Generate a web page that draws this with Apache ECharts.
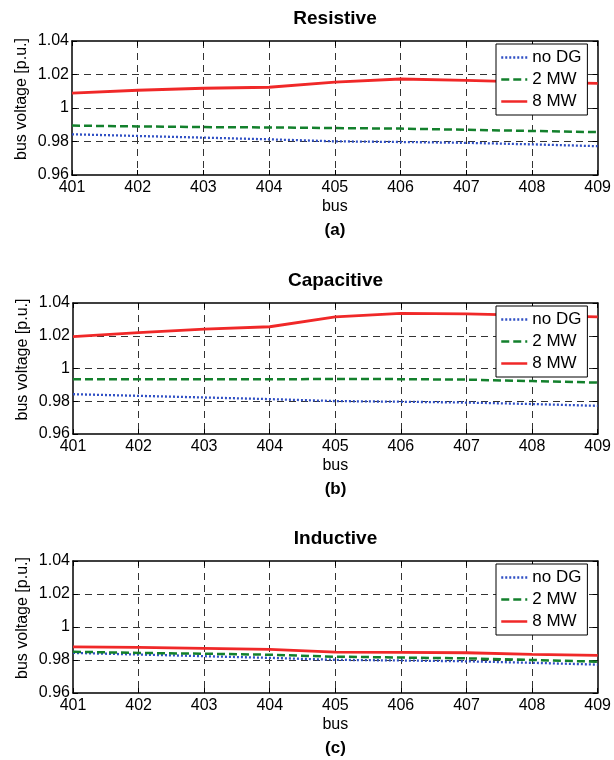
<!DOCTYPE html>
<html><head><meta charset="utf-8">
<script src="https://cdn.jsdelivr.net/npm/echarts@6/dist/echarts.min.js"></script>
<style>html,body{margin:0;padding:0;background:#fff}#c{width:614px;height:760px}</style>
</head><body><div id="c"></div>
<script>
// ---- data ----
const buses = [401, 402, 403, 404, 405, 406, 407, 408, 409];
const yTicks = [0.96, 0.98, 1.0, 1.02, 1.04];
const seriesNames = ['no DG', '2 MW', '8 MW'];
const panelTitles = ['Resistive', 'Capacitive', 'Inductive'];
const panelLabels = ['(a)', '(b)', '(c)'];
const xAxisName = 'bus';
const yAxisName = 'bus voltage [p.u.]';

const noDG   = [0.9843, 0.9833, 0.9823, 0.9813, 0.9801, 0.9797, 0.9792, 0.9783, 0.9772];
const res2MW = [0.9895, 0.9890, 0.9886, 0.9884, 0.9880, 0.9877, 0.9870, 0.9863, 0.9856];
const res8MW = [1.0089, 1.0106, 1.0118, 1.0124, 1.0155, 1.0173, 1.0165, 1.0155, 1.0147];
const cap2MW = [0.9935, 0.9935, 0.9934, 0.9934, 0.9936, 0.9935, 0.9932, 0.9923, 0.9914];
const cap8MW = [1.0195, 1.0219, 1.0241, 1.0255, 1.0315, 1.0337, 1.0333, 1.0325, 1.0315];
const ind2MW = [0.9850, 0.9843, 0.9838, 0.9832, 0.9820, 0.9815, 0.9810, 0.9800, 0.9790];
const ind8MW = [0.9880, 0.9876, 0.9870, 0.9864, 0.9848, 0.9846, 0.9844, 0.9834, 0.9828];

const panels = [
  [noDG, res2MW, res8MW],
  [noDG, cap2MW, cap8MW],
  [noDG, ind2MW, ind8MW]
];

// ---- styling / layout ----
const FONT = '"Liberation Sans", Arial, Helvetica, sans-serif';
const gridBoxes = [
  {left: 72, top: 41, height: 134},
  {left: 73, top: 303, height: 131},
  {left: 73, top: 561, height: 132}
];
const RIGHT = 16;
const lineStyles = [
  {color: '#2f4fc4', width: 2.3, type: [2, 2]},
  {color: '#13802c', width: 2.5, type: [8, 4]},
  {color: '#f02828', width: 2.8, type: 'solid'}
];

const chart = echarts.init(document.getElementById('c'), null, {renderer: 'canvas'});

const grid = [], xAxis = [], yAxis = [], series = [], legend = [], graphic = [];
const axisLineStyle = {show: true, lineStyle: {color: '#000', width: 1.5}};
const tickStyle = {show: true, inside: true, length: 5, lineStyle: {color: '#000', width: 1}};
const gridLine = {show: true, showMinLine: false, showMaxLine: false,
  lineStyle: {color: '#333', width: 1, type: [7, 5]}};

gridBoxes.forEach((g, i) => {
  grid.push({left: g.left, top: g.top, height: g.height, right: RIGHT, containLabel: false});
  // bottom x axis
  xAxis.push({
    type: 'value', gridIndex: i, position: 'bottom',
    min: buses[0], max: buses[buses.length - 1], interval: 1,
    axisLine: axisLineStyle, axisTick: tickStyle, splitLine: gridLine,
    axisLabel: {color: '#000', fontSize: 16, fontFamily: FONT, margin: 5,
      formatter: v => String(v)},
    name: xAxisName, nameLocation: 'middle', nameGap: 24, nameMoveOverlap: false,
    nameTextStyle: {color: '#000', fontSize: 16, fontFamily: FONT}
  });
  // top x axis (box + ticks)
  xAxis.push({
    type: 'value', gridIndex: i, position: 'top',
    min: buses[0], max: buses[buses.length - 1], interval: 1,
    axisLine: axisLineStyle, axisTick: tickStyle, splitLine: {show: false},
    axisLabel: {show: false}
  });
  // left y axis
  yAxis.push({
    type: 'value', gridIndex: i, position: 'left',
    min: yTicks[0], max: yTicks[yTicks.length - 1], interval: 0.02,
    axisLine: axisLineStyle, axisTick: tickStyle, splitLine: gridLine,
    axisLabel: {color: '#000', fontSize: 16, fontFamily: FONT, margin: 3,
      formatter: v => String(parseFloat(v.toFixed(2)))},
    name: yAxisName, nameLocation: 'middle', nameGap: 42, nameRotate: 90,
    nameMoveOverlap: false,
    nameTextStyle: {color: '#000', fontSize: 16, fontFamily: FONT, padding: [0, 0, 0, 18]}
  });
  // right y axis
  yAxis.push({
    type: 'value', gridIndex: i, position: 'right',
    min: yTicks[0], max: yTicks[yTicks.length - 1], interval: 0.02,
    axisLine: axisLineStyle, axisTick: tickStyle, splitLine: {show: false},
    axisLabel: {show: false}
  });

  panels[i].forEach((vals, k) => {
    series.push({
      type: 'line', name: seriesNames[k],
      xAxisIndex: 2 * i, yAxisIndex: 2 * i,
      data: buses.map((b, j) => [b, vals[j]]),
      symbol: 'none', smooth: false,
      lineStyle: lineStyles[k], itemStyle: {color: lineStyles[k].color},
      z: 2, zlevel: 0, animation: false
    });
  });

  legend.push({
    orient: 'vertical', left: 496, top: g.top + 3, z: 20,
    data: seriesNames, selectedMode: false,
    itemWidth: 26, itemHeight: 14, itemGap: 5,
    padding: [5, 6, 5, 4],
    borderColor: '#000', borderWidth: 1, backgroundColor: '#fff',
    itemStyle: {opacity: 0},
    lineStyle: {width: 2.5},
    textStyle: {color: '#000', fontSize: 17, fontFamily: FONT}
  });

  const cx = g.left + (614 - RIGHT - g.left) / 2;
  graphic.push({
    type: 'text', x: cx, y: g.top - 22, z: 10,
    style: {text: panelTitles[i], fill: '#000', font: 'bold 19px ' + FONT,
      align: 'center', verticalAlign: 'middle'}
  });
  graphic.push({
    type: 'text', x: cx, y: g.top + g.height + 55, z: 10,
    style: {text: panelLabels[i], fill: '#000', font: 'bold 17px ' + FONT,
      align: 'center', verticalAlign: 'middle'}
  });
});

chart.setOption({
  animation: false,
  backgroundColor: '#fff',
  grid, xAxis, yAxis, series, legend, graphic
});
</script>
</body></html>
